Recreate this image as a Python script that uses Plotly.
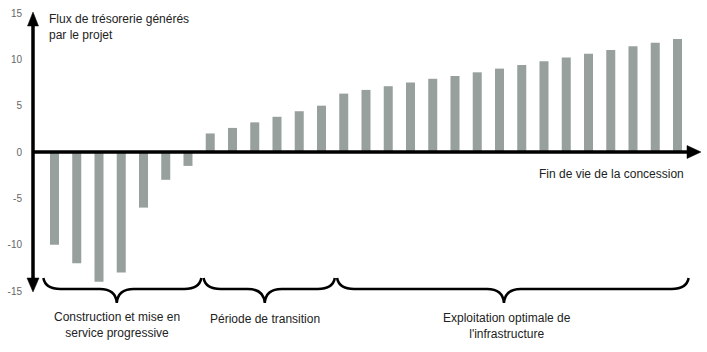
import plotly.graph_objects as go

# ---- data ----
periods = list(range(29))
cash_flows = [-10, -12, -14, -13, -6, -3, -1.5,
              2.0, 2.6, 3.2, 3.8, 4.4, 5.0,
              6.3, 6.7, 7.1, 7.5, 7.9, 8.2, 8.6, 9.0, 9.4, 9.8,
              10.2, 10.6, 11.0, 11.4, 11.8, 12.2]
y_ticks = [-15, -10, -5, 0, 5, 10, 15]
y_tick_text = ["-15", "-10", "-5", "0", "5", "10", "15"]
phase_labels = ["Construction et mise en<br>service progressive",
                "Période de transition",
                "Exploitation optimale de<br>l'infrastructure"]
# phase spans in period index units (start, end, tip)
phase_spans = [(-0.5, 6.6, 2.8), (6.7, 12.6, 9.45), (12.7, 28.5, 20.2)]
y_title = "Flux de trésorerie générés<br>par le projet"
x_title = "Fin de vie de la concession"

# ---- layout geometry ----
W, H = 707, 352
L, R, T, B = 33, 702, 13, 291
XR = [-0.966, 29.101]
YR = [-15, 15]

def px(p):   # pixel x -> paper
    return (p - L) / (R - L)

def py(p):   # pixel y -> paper
    return (B - p) / (B - T)

def dx2px(x):
    return L + (x - XR[0]) / (XR[1] - XR[0]) * (R - L)

fig = go.Figure()
fig.add_trace(go.Bar(x=periods, y=cash_flows, width=0.405,
                     marker=dict(color="#98a09e", line=dict(width=0)),
                     hoverinfo="skip"))

shapes = []
# y axis line
shapes.append(dict(type="line", xref="paper", yref="paper",
                   x0=px(33), x1=px(33), y0=py(280), y1=py(24),
                   line=dict(color="black", width=3.5)))
# x axis line at y=0
shapes.append(dict(type="line", xref="paper", yref="y",
                   x0=px(33), x1=px(690), y0=0, y1=0,
                   line=dict(color="black", width=3.5)))
# arrow heads
def tri(pts):
    return "M " + " L ".join(f"{px(a):.5f},{py(b):.5f}" for a, b in pts) + " Z"
for pts in [[(33, 12), (27.5, 26), (38.5, 26)],
            [(33, 292), (27, 278), (39, 278)],
            [(701, 152), (687, 145.5), (687, 158.5)]]:
    shapes.append(dict(type="path", xref="paper", yref="paper", path=tri(pts),
                       fillcolor="black", line=dict(color="black", width=0.5)))

# braces
y_end, y_h, y_tip = 278, 289, 303
def brace(x0, x1, xm, r=17):
    P = lambda a, b: f"{px(a):.5f},{py(b):.5f}"
    return (f"M {P(x0, y_end)} Q {P(x0 + 2, y_h)} {P(x0 + r, y_h)} "
            f"L {P(xm - r, y_h)} Q {P(xm - 1, y_h)} {P(xm, y_tip)} "
            f"Q {P(xm + 1, y_h)} {P(xm + r, y_h)} "
            f"L {P(x1 - r, y_h)} Q {P(x1 - 2, y_h)} {P(x1, y_end)}")
for (a, b, m) in phase_spans:
    shapes.append(dict(type="path", xref="paper", yref="paper",
                       path=brace(dx2px(a), dx2px(b), dx2px(m)),
                       line=dict(color="black", width=2.5)))

annotations = []
font = dict(family="Liberation Sans, Arial, sans-serif", size=12, color="#222")
annotations.append(dict(xref="paper", yref="paper", x=px(47), y=py(10),
                        xanchor="left", yanchor="top", align="left",
                        text=y_title, showarrow=False, font=font))
annotations.append(dict(xref="paper", yref="paper", x=px(686), y=py(174),
                        xanchor="right", yanchor="middle",
                        text=x_title, showarrow=False, font=font))
label_y = [325.5, 318.5, 326]
label_dx = [0, 0, 3]
for (a, b, m), lab, ly, ddx in zip(phase_spans, phase_labels, label_y, label_dx):
    annotations.append(dict(xref="paper", yref="paper", x=px(dx2px(m) + ddx), y=py(ly),
                            xanchor="center", yanchor="middle", align="center",
                            text=lab, showarrow=False, font=font))

fig.update_layout(
    width=W, height=H,
    margin=dict(l=L, r=W - R, t=T, b=H - B, pad=0),
    paper_bgcolor="white", plot_bgcolor="white",
    showlegend=False,
    xaxis=dict(range=XR, visible=False, fixedrange=True),
    yaxis=dict(range=YR, tickvals=y_ticks, ticktext=y_tick_text,
               showgrid=False, zeroline=False,
               showline=False, ticks="", ticklabelstandoff=10,
               tickfont=dict(family="Liberation Sans, Arial, sans-serif",
                             size=10, color="#666")),
    shapes=shapes, annotations=annotations,
)
fig.write_html("out.html")
